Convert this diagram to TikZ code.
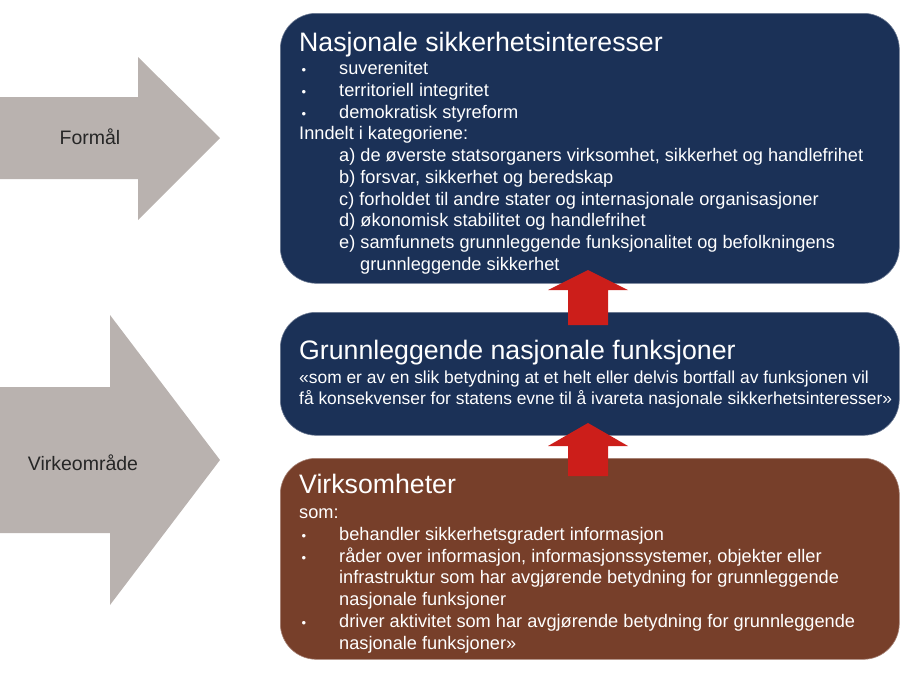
\documentclass[tikz,border=0pt]{standalone}
\usepackage{fontspec}
\setmainfont{Liberation Sans}
\usetikzlibrary{positioning}
\definecolor{navy}{HTML}{1B3157}
\definecolor{rust}{HTML}{773F2A}
\definecolor{pilred}{HTML}{CC1E1A}
\definecolor{pilgray}{HTML}{B9B2AF}
\tikzset{
  box/.style={rounded corners=36pt, minimum width=619pt, anchor=north west,
    fill=#1, draw=#1!65!white, line width=0.6pt, inner sep=0pt},
  boxtitle/.style={anchor=base west, inner sep=0pt, text=white,
    font=\fontsize{26.7}{30}\selectfont},
  boxbody/.style={anchor=north west, inner sep=0pt, text=white, align=left,
    font=\fontsize{18.2}{21.7}\selectfont, execute at begin node=\strut},
  sidetext/.style={inner sep=0pt, text=black!85, font=\fontsize{19.5}{22}\selectfont}
}
\newcommand{\blt}[1]{\makebox[40pt][l]{\hspace{2.5pt}{\fontsize{13}{13}\selectfont•}}#1}
\begin{document}
\begin{tikzpicture}[x=1pt,y=-1pt]
\useasboundingbox (0,0) rectangle (900,673);

% gray arrows on the left
\fill[pilgray] (0,97) -- (138,97) -- (138,57) -- (220,138) -- (138,220) -- (138,179) -- (0,179) -- cycle;
\fill[pilgray] (0,387) -- (110,387) -- (110,315) -- (220,460) -- (110,605) -- (110,533) -- (0,533) -- cycle;
\node[sidetext] (formal) at (90,137) {Formål};
\node[sidetext] (virke) at (83,463) {Virkeområde};

% boxes
\node[box=navy, minimum height=270pt] (nsi) at (280,13) {};
\node[box=navy, minimum height=123pt] (gnf) at (280,312) {};
\node[box=rust, minimum height=201pt] (virk) at (280,458) {};

% red arrows
\fill[pilred] (568,325) -- (568,290) -- (548,290) -- (588,270) -- (628,290) -- (608,290) -- (608,325) -- cycle;
\fill[pilred] (568,476) -- (568,446) -- (548,446) -- (588,423) -- (628,446) -- (608,446) -- (608,476) -- cycle;

% texts
\node[boxtitle] (nsiT) at (299,51) {Nasjonale sikkerhetsinteresser};
\node[boxbody] (nsiB) at (299,61.5) {\blt{suverenitet}\\
\blt{territoriell integritet}\\
\blt{demokratisk styreform}\\
Inndelt i kategoriene:\\
\hspace*{40pt}a) de øverste statsorganers virksomhet, sikkerhet og handlefrihet\\
\hspace*{40pt}b) forsvar, sikkerhet og beredskap\\
\hspace*{40pt}c) forholdet til andre stater og internasjonale organisasjoner\\
\hspace*{40pt}d) økonomisk stabilitet og handlefrihet\\
\hspace*{40pt}e) samfunnets grunnleggende funksjonalitet og befolkningens\\
\hspace*{61pt}grunnleggende sikkerhet};

\node[boxtitle] (gnfT) at (299,359) {Grunnleggende nasjonale funksjoner};
\node[boxbody, font=\fontsize{17.4}{21}\selectfont] (gnfB) at (299,370.5)
  {«som er av en slik betydning at et helt eller delvis bortfall av funksjonen vil\\
få konsekvenser for statens evne til å ivareta nasjonale sikkerhetsinteresser»};

\node[boxtitle] (virkT) at (299,493) {Virksomheter};
\node[boxbody, font=\fontsize{18.2}{21.85}\selectfont] (virkB) at (299,508.3) {som:\\
\blt{behandler sikkerhetsgradert informasjon}\\
\blt{råder over informasjon, informasjonssystemer, objekter eller}\\
\hspace*{40pt}infrastruktur som har avgjørende betydning for grunnleggende\\
\hspace*{40pt}nasjonale funksjoner\\
\blt{driver aktivitet som har avgjørende betydning for grunnleggende}\\
\hspace*{40pt}nasjonale funksjoner»};
\end{tikzpicture}
\end{document}
